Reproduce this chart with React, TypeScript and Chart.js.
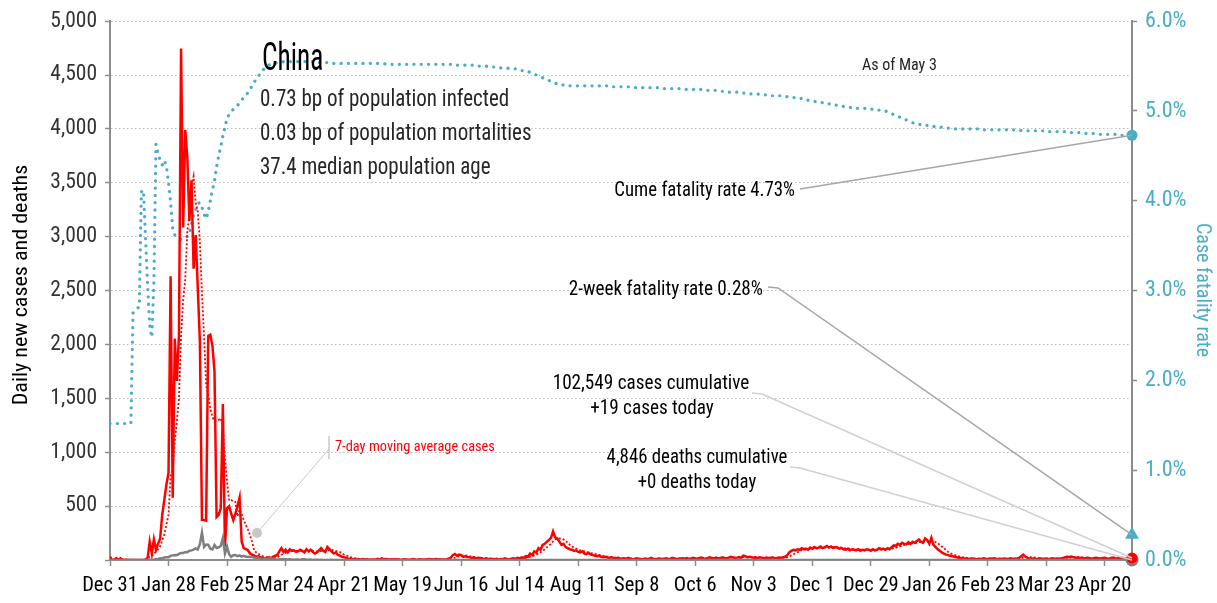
import React, { useEffect, useRef } from "react";
import { Chart, registerables } from "chart.js";
Chart.register(...registerables);

// ---------- data ----------
const tickLabels = ["Dec 31","Jan 28","Feb 25","Mar 24","Apr 21","May 19","Jun 16","Jul 14","Aug 11","Sep 8","Oct 6","Nov 3","Dec 1","Dec 29","Jan 26","Feb 23","Mar 23","Apr 20"];
const TICK_STEP_DAYS = 28;

// daily new cases, Dec 31 2019 .. May 3 2021 (one value per day)
const dailyCases = [
  27,0,0,17,0,15,0,0,0,0,
  0,0,0,0,0,0,0,4,20,170,
  60,190,95,150,200,420,560,700,810,2632,
  578,2054,1661,2089,4747,3086,3991,3733,3147,3523,
  2704,3015,2525,2032,373,370,365,2080,2091,1990,
  1750,400,420,480,1447,123,480,500,430,370,
  430,500,580,170,110,100,90,60,50,40,
  30,35,25,20,15,20,25,15,30,40,
  45,80,110,75,95,70,100,85,90,75,
  80,95,85,70,100,80,95,75,60,70,
  90,110,85,75,120,100,80,60,70,50,
  40,30,25,20,15,12,10,8,10,6,
  5,8,4,6,3,2,4,3,10,5,
  15,8,10,7,5,6,4,7,5,3,
  4,6,3,2,5,8,4,3,6,4,
  2,5,8,10,6,5,8,4,6,3,
  5,7,12,20,45,55,40,50,45,30,
  35,28,25,20,22,18,15,20,12,10,
  15,8,12,10,8,12,6,10,8,15,
  10,8,12,15,10,20,15,25,20,35,
  30,60,45,80,70,110,95,140,150,170,
  185,205,265,210,200,170,140,150,120,110,
  100,95,85,90,75,70,80,60,55,65,
  50,45,40,35,40,30,25,30,22,20,
  25,18,15,20,15,12,15,10,20,12,
  8,10,15,12,10,8,14,10,12,20,
  10,8,12,14,10,9,15,12,10,20,
  15,10,12,14,16,12,18,10,14,20,
  15,12,18,22,15,12,20,25,18,15,
  22,14,18,25,20,15,22,30,25,18,
  22,28,20,40,35,25,30,25,20,22,
  18,25,20,15,22,18,20,25,15,18,
  22,20,25,30,45,70,85,95,90,100,
  95,110,100,105,95,115,105,120,110,115,
  125,110,120,130,115,125,110,120,115,105,
  110,100,95,105,90,100,95,90,100,85,
  95,90,100,95,85,100,90,95,110,100,
  105,95,110,100,120,135,130,150,140,160,
  150,145,165,150,170,160,175,190,170,160,
  200,185,150,205,140,120,100,85,70,60,
  50,45,40,35,30,25,20,18,15,14,
  15,10,12,14,10,8,12,10,15,12,
  10,14,11,15,12,10,12,10,14,10,
  12,15,10,12,14,20,35,50,30,20,
  15,12,14,10,12,15,10,12,14,10,
  12,15,10,14,12,15,18,25,30,28,
  32,25,20,22,18,20,15,18,20,15,
  12,18,20,15,14,18,20,15,12,18,
  22,15,14,18,20,16,14,15,18,19
];

// daily new deaths
const dailyDeaths = [
  0,0,0,0,0,0,0,0,0,0,
  0,1,0,0,0,0,0,1,0,0,
  3,0,9,8,16,15,24,26,26,38,
  43,46,45,57,64,65,73,73,86,89,
  97,108,97,146,254,121,143,142,105,98,
  139,112,118,130,205,60,125,52,29,44,
  47,35,42,31,38,31,30,28,27,22,
  17,22,11,7,13,10,14,13,11,8,
  3,7,6,9,7,4,6,5,3,5,
  4,1,7,6,4,3,4,1,3,2,
  1,2,1,1,0,1,2,0,1,0,
  0,1,0,0,0,0,0,1,0,0,
  0,0,0,0,0,0,0,0,0,0,
  0,0,0,0,0,0,0,0,0,0,
  0,0,0,0,0,0,0,0,0,0,
  0,0,0,0,0,0,0,0,0,0,
  0,0,0,0,0,0,0,0,0,0,
  0,0,0,0,0,0,0,0,0,0,
  0,0,0,0,0,0,0,0,0,0,
  0,0,0,0,0,0,0,0,0,0,
  0,0,0,0,0,0,0,1,0,0,
  1,0,0,0,1,0,0,0,0,0,
  1,0,0,0,0,0,0,0,0,0,
  0,0,0,0,0,0,0,0,0,0,
  0,0,0,0,0,0,0,0,0,0,
  0,0,0,0,0,0,0,0,0,0,
  0,0,0,0,0,0,0,0,0,0,
  0,0,0,0,0,0,0,0,0,0,
  0,0,0,0,0,0,0,0,0,0,
  0,0,0,0,0,0,0,0,0,0,
  0,0,0,0,0,0,0,0,0,0,
  0,0,0,0,0,0,0,0,0,0,
  0,0,0,0,0,0,0,0,0,0,
  0,0,0,0,0,0,0,0,0,0,
  0,0,0,0,0,0,0,0,0,0,
  0,0,0,0,0,0,0,0,0,0,
  0,0,0,0,0,0,0,0,0,0,
  0,0,0,0,0,0,0,0,0,0,
  0,0,0,1,0,0,0,0,1,0,
  0,0,0,0,0,0,0,0,0,0,
  0,0,0,0,0,0,0,0,0,0,
  0,0,0,0,0,0,0,0,0,0,
  0,0,0,0,0,0,0,0,0,0,
  0,0,0,0,0,0,0,0,0,0,
  0,0,0,0,0,0,0,0,0,0,
  0,0,0,0,0,0,0,0,0,0,
  0,0,0,0,0,0,0,0,0,0,
  0,0,0,0,0,0,0,0,0,0,
  0,0,0,0,0,0,0,0,0,0
];

// cumulative case fatality rate, percent
const caseFatalityRate = [
  1.52,1.52,1.52,1.52,1.52,1.52,1.52,1.52,1.52,1.52,
  1.52,2.75,2.78,2.80,2.82,4.10,4.12,3.60,3.05,2.62,
  2.48,3.10,4.63,4.52,4.45,4.40,4.45,4.38,4.20,3.98,
  3.69,3.62,3.60,3.58,3.57,3.58,3.60,3.60,3.65,3.74,
  3.84,3.90,3.97,3.98,3.93,3.85,3.80,3.88,4.00,4.12,
  4.22,4.38,4.50,4.60,4.72,4.82,4.92,4.96,4.99,5.02,
  5.04,5.06,5.09,5.12,5.15,5.18,5.20,5.24,5.28,5.32,
  5.36,5.39,5.42,5.45,5.48,5.50,5.51,5.52,5.53,5.53,
  5.54,5.54,5.54,5.55,5.55,5.55,5.55,5.55,5.55,5.55,
  5.55,5.55,5.55,5.55,5.55,5.55,5.55,5.55,5.54,5.54,
  5.54,5.54,5.54,5.54,5.54,5.54,5.53,5.53,5.53,5.53,
  5.53,5.53,5.53,5.53,5.53,5.53,5.53,5.53,5.53,5.53,
  5.53,5.53,5.53,5.53,5.53,5.53,5.53,5.53,5.53,5.53,
  5.53,5.53,5.52,5.52,5.52,5.52,5.52,5.52,5.52,5.52,
  5.52,5.52,5.52,5.52,5.52,5.52,5.52,5.52,5.52,5.52,
  5.52,5.52,5.52,5.52,5.52,5.52,5.52,5.52,5.52,5.52,
  5.52,5.52,5.52,5.52,5.51,5.51,5.51,5.51,5.51,5.51,
  5.51,5.51,5.51,5.51,5.51,5.51,5.50,5.50,5.50,5.50,
  5.50,5.49,5.49,5.49,5.49,5.49,5.48,5.48,5.48,5.48,
  5.48,5.47,5.47,5.47,5.47,5.46,5.46,5.45,5.45,5.44,
  5.44,5.43,5.42,5.41,5.40,5.39,5.38,5.37,5.36,5.35,
  5.34,5.33,5.32,5.31,5.30,5.30,5.29,5.29,5.28,5.28,
  5.28,5.28,5.28,5.28,5.28,5.28,5.28,5.28,5.28,5.28,
  5.28,5.28,5.28,5.28,5.28,5.28,5.28,5.28,5.28,5.27,
  5.27,5.27,5.27,5.27,5.27,5.27,5.27,5.27,5.27,5.27,
  5.27,5.26,5.26,5.26,5.26,5.26,5.26,5.26,5.26,5.26,
  5.26,5.26,5.26,5.25,5.25,5.25,5.25,5.25,5.25,5.25,
  5.25,5.25,5.25,5.25,5.24,5.24,5.24,5.24,5.24,5.24,
  5.24,5.24,5.24,5.24,5.23,5.23,5.23,5.23,5.23,5.23,
  5.23,5.22,5.22,5.22,5.22,5.22,5.21,5.21,5.21,5.21,
  5.21,5.20,5.20,5.20,5.20,5.20,5.19,5.19,5.19,5.19,
  5.19,5.18,5.18,5.18,5.18,5.18,5.17,5.17,5.17,5.17,
  5.17,5.17,5.16,5.16,5.16,5.16,5.16,5.15,5.15,5.15,
  5.14,5.14,5.13,5.13,5.12,5.12,5.11,5.11,5.10,5.10,
  5.10,5.09,5.09,5.08,5.08,5.07,5.07,5.07,5.06,5.06,
  5.06,5.05,5.05,5.05,5.04,5.04,5.04,5.03,5.03,5.03,
  5.03,5.03,5.02,5.02,5.02,5.02,5.02,5.01,5.01,5.01,
  5.00,5.00,4.99,4.98,4.97,4.96,4.95,4.94,4.93,4.92,
  4.91,4.90,4.89,4.88,4.87,4.86,4.86,4.85,4.85,4.84,
  4.84,4.84,4.83,4.83,4.83,4.82,4.82,4.82,4.82,4.81,
  4.81,4.81,4.81,4.81,4.80,4.80,4.80,4.80,4.80,4.80,
  4.80,4.80,4.80,4.80,4.80,4.80,4.80,4.80,4.79,4.79,
  4.79,4.79,4.79,4.79,4.79,4.79,4.79,4.79,4.79,4.79,
  4.79,4.79,4.79,4.79,4.79,4.79,4.78,4.78,4.78,4.78,
  4.78,4.78,4.78,4.78,4.78,4.78,4.78,4.78,4.78,4.77,
  4.77,4.77,4.77,4.77,4.77,4.77,4.77,4.77,4.76,4.76,
  4.76,4.76,4.76,4.76,4.76,4.75,4.75,4.75,4.75,4.75,
  4.75,4.75,4.75,4.74,4.74,4.74,4.74,4.74,4.74,4.74,
  4.74,4.74,4.73,4.73,4.73,4.73,4.73,4.73,4.73,4.73
];

const twoWeekFatalityRate = 0.28;

const chartTitle = "China";
const infoLines = ["0.73 bp of population infected", "0.03 bp of population mortalities", "37.4 median population age"];
const asOfText = "As of May 3";
const cumeLabel = "Cume fatality rate 4.73%";
const twoWeekLabel = "2-week fatality rate 0.28%";
const casesLabel = ["102,549 cases cumulative", "+19 cases today"];
const deathsLabel = ["4,846 deaths cumulative", "+0 deaths today"];
const maLabel = "7-day moving average cases";
const leftTitle = "Daily new cases and deaths";
const rightTitle = "Case fatality rate";

// ---------- styles ----------
const FONT = "'Roboto Condensed', 'Liberation Sans Narrow', 'DejaVu Sans Condensed', sans-serif";
const RED = "#ff0000";
const GRAY = "#7f7f7f";
const TEAL = "#4bacc6";
const AXIS = "#8c8c8c";

function drawText(ctx: CanvasRenderingContext2D, text: string, x: number, y: number, size: number, color: string, align: "left" | "right" | "center", sx = 1) {
  ctx.save();
  ctx.font = `${size}px ${FONT}`;
  ctx.fillStyle = color;
  ctx.textBaseline = "alphabetic";
  ctx.textAlign = "left";
  const w = ctx.measureText(text).width * sx;
  const left = align === "left" ? x : align === "right" ? x - w : x - w / 2;
  ctx.translate(left, y);
  ctx.scale(sx, 1);
  ctx.fillText(text, 0, 0);
  ctx.restore();
  return w;
}

function line(ctx: CanvasRenderingContext2D, pts: number[][], color: string, width: number) {
  ctx.save();
  ctx.strokeStyle = color;
  ctx.lineWidth = width;
  ctx.beginPath();
  pts.forEach((p, i) => (i === 0 ? ctx.moveTo(p[0], p[1]) : ctx.lineTo(p[0], p[1])));
  ctx.stroke();
  ctx.restore();
}

const annotationPlugin = {
  id: "annotations",
  afterDraw(chart: any) {
    const ctx: CanvasRenderingContext2D = chart.ctx;
    const { x, y, y1 } = chart.scales;
    const last = dailyCases.length - 1;
    const ex = x.getPixelForValue(last);
    const SX = 0.94;

    // axis titles
    ctx.save();
    ctx.translate(20, 285);
    ctx.rotate(-Math.PI / 2);
    drawText(ctx, leftTitle, 0, 7, 21, "#000", "center", 1.05);
    ctx.restore();
    ctx.save();
    ctx.translate(1204, 290);
    ctx.rotate(Math.PI / 2);
    drawText(ctx, rightTitle, 0, 7, 20, TEAL, "center", 1.0);
    ctx.restore();

    // title block
    drawText(ctx, chartTitle, 262, 70, 38, "#000", "left", 0.72);
    drawText(ctx, infoLines[0], 260, 106, 24, "#262626", "left", 0.875);
    drawText(ctx, infoLines[1], 260, 140, 24, "#262626", "left", 0.875);
    drawText(ctx, infoLines[2], 260, 174, 24, "#262626", "left", 0.875);
    drawText(ctx, asOfText, 862, 70, 16, "#262626", "left", 1.0);

    // cume fatality
    const cfrY = y1.getPixelForValue(caseFatalityRate[last]);
    drawText(ctx, cumeLabel, 795, 196, 20, "#000", "right", SX);
    line(ctx, [[800, 189], [ex, cfrY]], "#a6a6a6", 1.5);

    // 2-week fatality
    const twY = y1.getPixelForValue(twoWeekFatalityRate);
    drawText(ctx, twoWeekLabel, 763, 295, 20, "#000", "right", 0.96);
    line(ctx, [[768, 287], [778, 288], [ex, twY]], "#a6a6a6", 1.5);

    // cases
    drawText(ctx, casesLabel[0], 651, 389, 20, "#000", "center", 0.96);
    drawText(ctx, casesLabel[1], 652, 414, 20, "#000", "center", 0.96);
    line(ctx, [[752, 393], [762, 394], [ex, y.getPixelForValue(dailyCases[last])]], "#d0d0d0", 1.5);

    // deaths
    drawText(ctx, deathsLabel[0], 697, 463, 20, "#000", "center", SX);
    drawText(ctx, deathsLabel[1], 697, 488, 20, "#000", "center", SX);
    line(ctx, [[790, 467], [800, 468], [ex, y.getPixelForValue(dailyDeaths[last])]], "#d0d0d0", 1.5);

    // moving average callout
    drawText(ctx, maLabel, 335, 451, 15, RED, "left", 0.96);
    line(ctx, [[329, 436], [329, 459]], "#c8c8c8", 1.5);
    line(ctx, [[329, 449], [257, 533]], "#c8c8c8", 1);
    ctx.save();
    ctx.fillStyle = "#c8c8c8";
    ctx.beginPath();
    ctx.arc(257, 533, 5, 0, Math.PI * 2);
    ctx.fill();
    ctx.restore();
  },
};

export default function App() {
  const ref = useRef<HTMLCanvasElement>(null);
  useEffect(() => {
    document.body.style.margin = "0";
    const last = dailyCases.length - 1;
    const movingAvg = dailyCases.map((_, i) => {
      const w = dailyCases.slice(Math.max(0, i - 6), i + 1);
      return w.reduce((a, b) => a + b, 0) / w.length;
    });
    const pts = (arr: number[]) => arr.map((v, i) => ({ x: i, y: v }));
    const chart = new Chart(ref.current!, {
      type: "line",
      data: {
        datasets: [
          { label: "cfr end", data: [{ x: last, y: caseFatalityRate[last] }], yAxisID: "y1", showLine: false, pointRadius: 5.5, pointBackgroundColor: TEAL, pointBorderWidth: 0, clip: false } as any,
          { label: "2wk", data: [{ x: last, y: twoWeekFatalityRate }], yAxisID: "y1", showLine: false, pointStyle: "triangle", pointRadius: 8, pointBackgroundColor: TEAL, pointBorderWidth: 0, clip: false } as any,
          { label: "cases end", data: [{ x: last, y: dailyCases[last] }], yAxisID: "y", showLine: false, pointRadius: 5.5, pointBackgroundColor: RED, pointBorderWidth: 0, clip: false } as any,
          { label: "deaths end", data: [{ x: last, y: dailyDeaths[last] }], yAxisID: "y", showLine: false, pointRadius: 6.5, pointBackgroundColor: GRAY, pointBorderWidth: 0, clip: false } as any,
          { label: "deaths", data: pts(dailyDeaths), yAxisID: "y", borderColor: GRAY, borderWidth: 2.5, pointRadius: 0, tension: 0 },
          { label: "cases", data: pts(dailyCases), yAxisID: "y", borderColor: RED, borderWidth: 2.5, pointRadius: 0, tension: 0 },
          { label: "ma", data: pts(movingAvg), yAxisID: "y", borderColor: RED, borderWidth: 1.8, borderDash: [2, 2], pointRadius: 0, tension: 0 },
          { label: "cfr", data: pts(caseFatalityRate), yAxisID: "y1", borderColor: TEAL, borderWidth: 3.2, borderDash: [0.1, 7.2], borderCapStyle: "round", pointRadius: 0, tension: 0 } as any,
        ],
      },
      options: {
        responsive: false,
        animation: false,
        layout: { padding: { top: 18, left: 0, right: 0, bottom: 0 } },
        plugins: { legend: { display: false }, tooltip: { enabled: false } },
        scales: {
          x: {
            type: "linear",
            min: 0,
            max: last,
            bounds: "data",
            afterBuildTicks: (s: any) => { s.ticks = s.ticks.filter((t: any) => t.value % TICK_STEP_DAYS === 0); },
            afterFit: (s: any) => { s.height = 43; },
            ticks: {
              stepSize: TICK_STEP_DAYS,
              includeBounds: false,
              autoSkip: false,
              maxRotation: 0,
              minRotation: 0,
              padding: 8,
              color: "#000",
              font: { family: FONT, size: 20.5 },
              callback: (v: any) => tickLabels[Math.round(v / TICK_STEP_DAYS)] ?? "",
            },
            grid: { drawOnChartArea: false, drawTicks: true, tickLength: 6, tickColor: AXIS, tickWidth: 1.5 },
            border: { display: true, color: AXIS, width: 2 },
          } as any,
          y: {
            position: "left",
            min: 0,
            max: 5000,
            afterFit: (s: any) => { s.width = 110; },
            ticks: {
              stepSize: 500,
              padding: 8,
              color: "#333",
              font: { family: FONT, size: 21.5 },
              callback: (v: any) => (v === 0 ? "" : Number(v).toLocaleString("en-US")),
            },
            grid: { color: (c: any) => (c.tick && c.tick.value === 0 ? "rgba(0,0,0,0)" : "#bdbdbd"), lineWidth: 1, tickLength: 5, tickColor: AXIS, tickWidth: 1.5 },
            border: { color: AXIS, width: 2, dash: [1.5, 2.5] },
          } as any,
          y1: {
            position: "right",
            min: 0,
            max: 6,
            afterFit: (s: any) => { s.width = 85; },
            ticks: {
              stepSize: 1,
              padding: 8,
              color: TEAL,
              font: { family: FONT, size: 22 },
              callback: (v: any) => Number(v).toFixed(1) + "%",
            },
            grid: { drawOnChartArea: false, tickLength: 5, tickColor: AXIS, tickWidth: 1.5 },
            border: { color: AXIS, width: 2 },
          } as any,
        },
      },
      plugins: [annotationPlugin],
    });
    return () => chart.destroy();
  }, []);
  return (
    <div style={{ position: "absolute", left: 0, top: 0, width: 1217, height: 603, background: "#fff" }}>
      <canvas ref={ref} width={1217} height={603} style={{ display: "block" }} />
    </div>
  );
}
